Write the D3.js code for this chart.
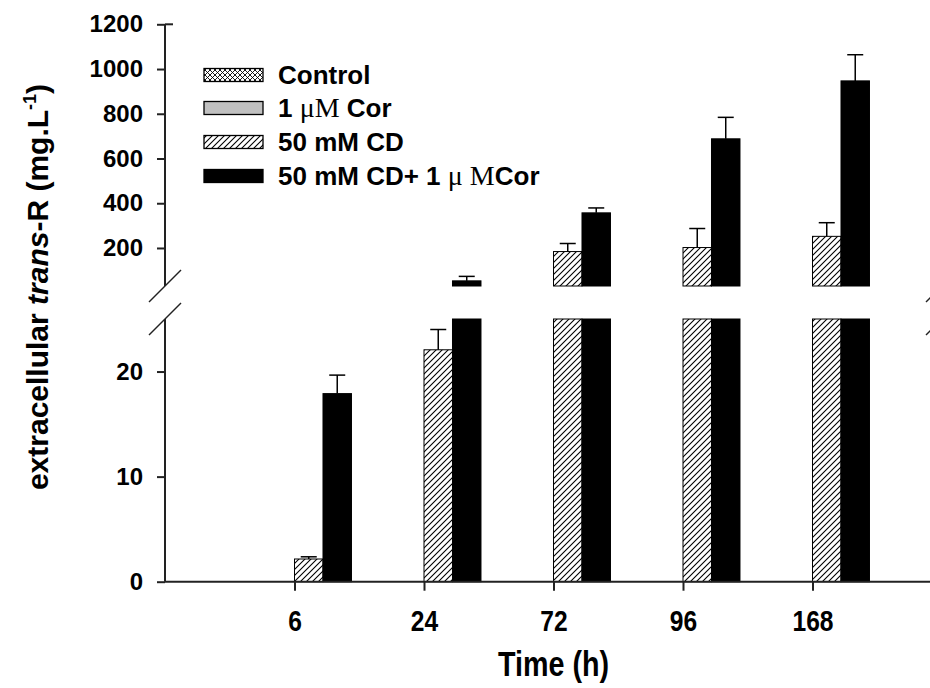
<!DOCTYPE html>
<html>
<head>
<meta charset="utf-8">
<script src="https://cdn.jsdelivr.net/npm/d3@7"></script>
<style>
  body { margin: 0; background: #fff; }
  svg text { font-family: "Liberation Sans", Arial, sans-serif; font-weight: bold; fill: #000; }
</style>
</head>
<body>
<div id="plot"></div>
<script>
// data
const times = ["6", "24", "72", "96", "168"];
const seriesNames = ["Control", "1 \u03bcM Cor", "50 mM CD", "50 mM CD+ 1 \u03bc MCor"];
const control = [0, 0, 0, 0, 0];
const cor = [0, 0, 0, 0, 0];
const cd = [2.16, 22.07, 184, 202, 252];
const cdErr = [0.21, 1.93, 36, 85, 61];
const cdCor = [17.9, 53, 357, 688, 947];
const cdCorErr = [1.76, 20, 22, 96, 117];
const lowTicks = [0, 10, 20];
const highTicks = [200, 400, 600, 800, 1000, 1200];

const W = 930, H = 688;
const svg = d3.select("#plot").append("svg")
    .attr("width", W).attr("height", H);

// patterns
const defs = svg.append("defs");
const hatch = defs.append("pattern")
    .attr("id", "hatch").attr("patternUnits", "userSpaceOnUse")
    .attr("width", 6).attr("height", 6);
hatch.append("rect").attr("width", 6).attr("height", 6).attr("fill", "#fff");
hatch.append("path").attr("d", "M0,6 L6,0 M-1,1 L1,-1 M5,7 L7,5")
    .attr("stroke", "#000").attr("stroke-width", 1.1);

const cross = defs.append("pattern")
    .attr("id", "cross").attr("patternUnits", "userSpaceOnUse")
    .attr("width", 5).attr("height", 5);
cross.append("rect").attr("width", 5).attr("height", 5).attr("fill", "#fff");
cross.append("path").attr("d", "M0,5 L5,0 M-1,1 L1,-1 M4,6 L6,4 M0,0 L5,5 M-1,4 L1,6 M4,-1 L6,1")
    .attr("stroke", "#000").attr("stroke-width", 0.9);

// scales: broken y axis (0-25 below, 30-1200 above)
const x = d3.scaleLinear().domain([0, 6]).range([165, 942]);
const yLow = d3.scaleLinear().domain([0, 25]).range([581.7, 319]);
const yHigh = d3.scaleLinear().domain([30, 1200]).range([286, 24.3]);
const breakLo = 25, breakHi = 30;

const barW = x(0.22) - x(0);
const series = [
  { vals: control, err: null, fill: "url(#cross)", off: -0.44 },
  { vals: cor, err: null, fill: "#c0c0c0", off: -0.22 },
  { vals: cd, err: cdErr, fill: "url(#hatch)", off: 0 },
  { vals: cdCor, err: cdCorErr, fill: "#000", off: 0.22 }
];

const bars = svg.append("g");
series.forEach(s => {
  s.vals.forEach((v, i) => {
    if (v <= 0) return;
    const x0 = x(i + 1 + s.off);
    // lower part
    const vLow = Math.min(v, breakLo);
    bars.append("rect")
        .attr("x", x0).attr("y", yLow(vLow))
        .attr("width", barW).attr("height", yLow(0) - yLow(vLow))
        .attr("fill", s.fill).attr("stroke", "#000").attr("stroke-width", 1);
    // upper part
    if (v > breakHi) {
      bars.append("rect")
          .attr("x", x0).attr("y", yHigh(v))
          .attr("width", barW).attr("height", yHigh(breakHi) - yHigh(v))
          .attr("fill", s.fill).attr("stroke", "#000").attr("stroke-width", 1);
    }
    // error bar (upper side only)
    if (s.err) {
      const top = v + s.err[i];
      const sc = v > breakHi ? yHigh : yLow;
      const cx = x0 + barW / 2;
      bars.append("line")
          .attr("x1", cx).attr("x2", cx)
          .attr("y1", sc(v)).attr("y2", sc(top))
          .attr("stroke", "#000").attr("stroke-width", 1.5);
      bars.append("line")
          .attr("x1", cx - 8).attr("x2", cx + 8)
          .attr("y1", sc(top)).attr("y2", sc(top))
          .attr("stroke", "#000").attr("stroke-width", 1.5);
    }
  });
});

// axes
const axisColor = "#222";
const gLow = svg.append("g").attr("transform", "translate(165,0)")
    .call(d3.axisLeft(yLow).tickValues(lowTicks).tickFormat(d3.format("d")).tickSize(8).tickPadding(14));
const gHigh = svg.append("g").attr("transform", "translate(165,0)")
    .call(d3.axisLeft(yHigh).tickValues(highTicks).tickFormat(d3.format("d")).tickSize(8).tickPadding(14));
[gLow, gHigh].forEach(g => {
  g.select(".domain").remove();
  g.selectAll("line").attr("stroke", axisColor).attr("stroke-width", 2);
  g.selectAll("text").attr("font-size", 24).attr("font-family", null);
});
svg.append("line").attr("x1", 165).attr("x2", 165)
    .attr("y1", yLow(0)).attr("y2", yLow(breakLo))
    .attr("stroke", axisColor).attr("stroke-width", 2);
svg.append("line").attr("x1", 165).attr("x2", 165)
    .attr("y1", yHigh(breakHi)).attr("y2", yHigh(1200))
    .attr("stroke", axisColor).attr("stroke-width", 2);
svg.append("line").attr("x1", 165).attr("x2", 173)
    .attr("y1", yHigh(1200)).attr("y2", yHigh(1200))
    .attr("stroke", axisColor).attr("stroke-width", 2);

// break marks on both sides
[x(0), x(6)].forEach(bx => {
  [yHigh(breakHi), yLow(breakLo)].forEach(by => {
    svg.append("line")
        .attr("x1", bx - 16).attr("y1", by + 16)
        .attr("x2", bx + 16).attr("y2", by - 16)
        .attr("stroke", axisColor).attr("stroke-width", 1.5);
  });
});

// x axis (condensed labels like the original)
const gx = svg.append("g").attr("transform", `translate(0,${yLow(0)})`)
    .call(d3.axisBottom(x).tickValues([1, 2, 3, 4, 5])
      .tickFormat(d => times[d - 1]).tickSize(9).tickPadding(0));
gx.select(".domain").attr("d", `M${x(0)},0H${x(6)}`)
    .attr("stroke", axisColor).attr("stroke-width", 2);
gx.selectAll("line").attr("stroke", axisColor).attr("stroke-width", 2);
gx.selectAll("text")
    .attr("font-size", 30).attr("font-family", null)
    .attr("y", 0).attr("dy", null)
    .attr("transform", "translate(0,49) scale(0.82,1)");

// axis titles
svg.append("text")
    .attr("transform", `translate(${x(3)},676) scale(0.82,1)`)
    .attr("text-anchor", "middle").attr("font-size", 35)
    .text("Time (h)");

const yt = svg.append("text")
    .attr("transform", "translate(48,287) rotate(-90)")
    .attr("text-anchor", "middle").attr("font-size", 30);
yt.append("tspan").text("extracellular ");
yt.append("tspan").attr("font-style", "italic").text("trans");
yt.append("tspan").text("-R (mg.L");
yt.append("tspan").attr("font-size", 18).attr("dy", -12).text("-1");
yt.append("tspan").attr("dy", 12).text(")");

// legend
const legFills = ["url(#cross)", "#c0c0c0", "url(#hatch)", "#000"];
const legY = [75, 108, 142, 176];
const leg = svg.append("g");
seriesNames.forEach((name, i) => {
  leg.append("rect")
      .attr("x", 204).attr("y", legY[i] - 6.5)
      .attr("width", 59).attr("height", 13)
      .attr("fill", legFills[i]).attr("stroke", "#000").attr("stroke-width", 1.3);
  const t = leg.append("text").attr("x", 278).attr("y", legY[i] + 9).attr("font-size", 26);
  // mu and M are set in a serif face in the original
  const parts = name.split(/(\u03bc M|\u03bcM)/);
  parts.forEach(p => {
    if (p === "\u03bcM" || p === "\u03bc M") {
      t.append("tspan").attr("font-family", "'Liberation Serif', 'Times New Roman', serif")
          .attr("font-weight", "normal").attr("font-size", 28).text(p);
    } else {
      t.append("tspan").text(p);
    }
  });
});
</script>
</body>
</html>
